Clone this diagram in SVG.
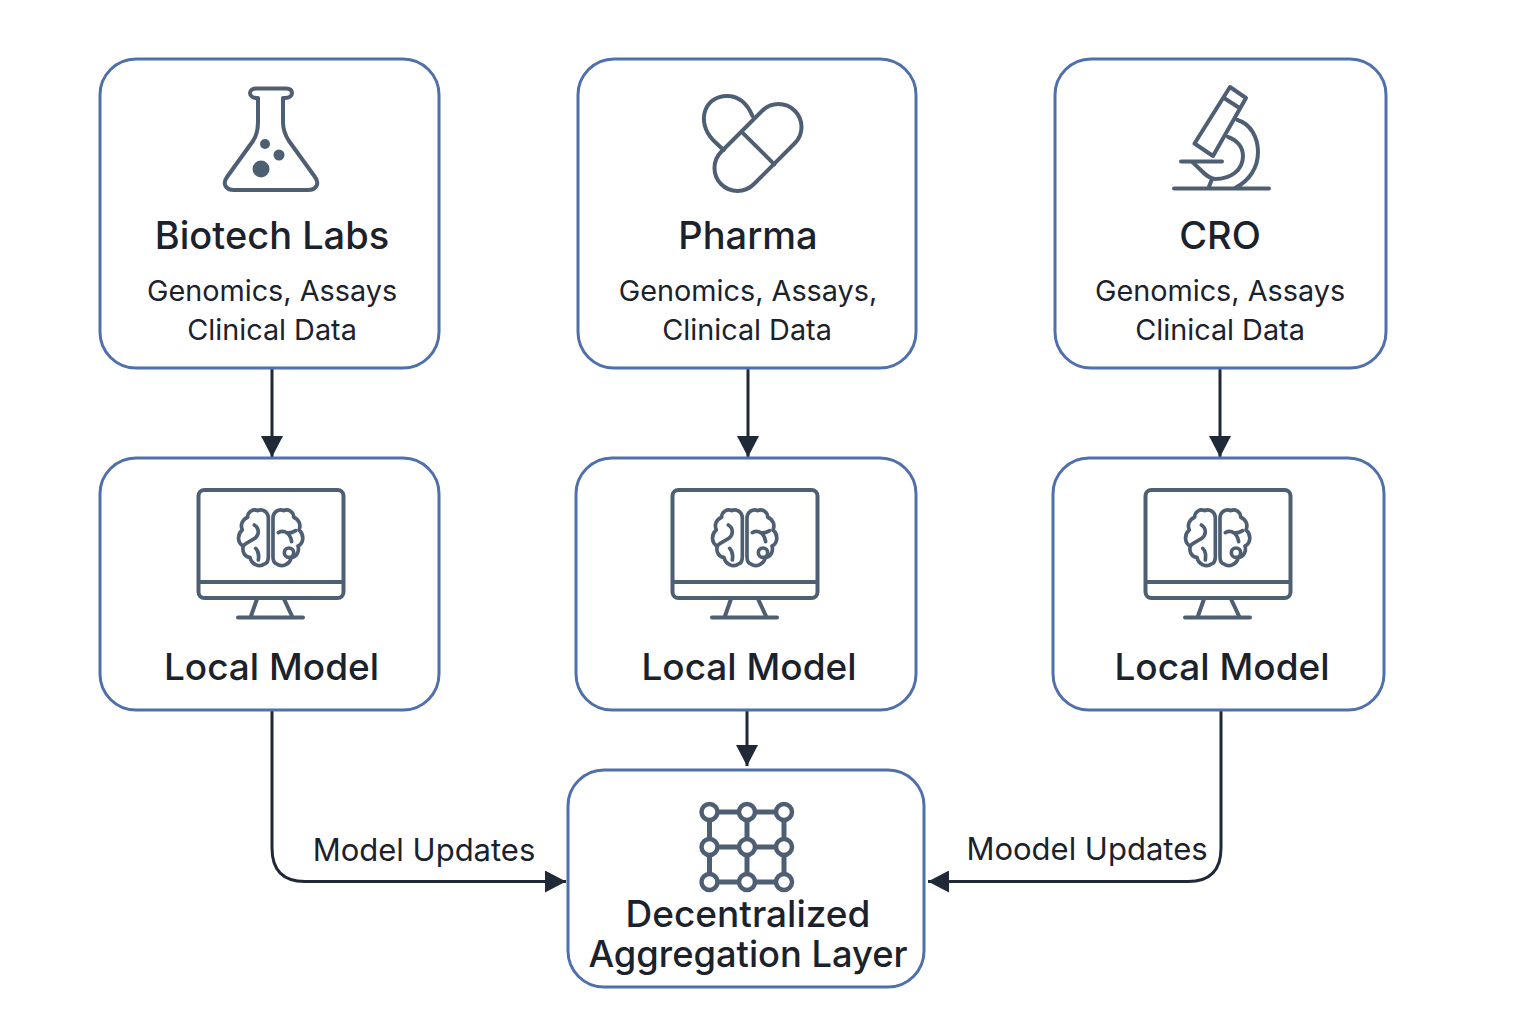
<svg xmlns="http://www.w3.org/2000/svg" xmlns:xlink="http://www.w3.org/1999/xlink" width="1536" height="1024" viewBox="0 0 1536 1024">
<style>
.box{fill:#fff;stroke:#4f70ac;stroke-width:3}
.ic{fill:none;stroke:#4f5f73;stroke-width:4;stroke-linecap:round;stroke-linejoin:round}
.icf{fill:#4f5f73;stroke:none}
.t{font-family:Inter,"Liberation Sans",sans-serif;fill:#1b222c;text-anchor:middle}
.h{font-size:37px;font-weight:500}
.h2{font-size:38px;font-weight:500}
.s{font-size:28.800px;font-weight:400}
.l{font-size:31px;font-weight:400}
.c{fill:none;stroke:#1f2937;stroke-width:3}
</style>
<defs>
<marker id="a" markerUnits="userSpaceOnUse" markerWidth="24" markerHeight="22" refX="21" refY="11" orient="auto"><path d="M0 0L21 11L0 22Z" fill="#1f2937"/></marker>
<g id="mon">
<rect class="ic" x="198.500" y="490" width="145" height="108" rx="6"/>
<path class="ic" d="M199 582H343M257 599L251 616M284 599L292 616M238 617.500H303"/>
<g transform="translate(185 480) scale(.3333)" class="ic" style="stroke-width:11">
<path d="M250 115C250 95 232 85 218 92C205 85 188 95 188 112C172 118 165 135 172 150C155 165 158 190 175 198C170 215 180 232 195 232C198 250 222 265 238 252C246 250 250 242 250 230Z"/>
<path d="M264 115C264 95 282 85 296 92C309 85 326 95 326 112C342 118 349 135 342 150C359 165 356 190 339 198C344 215 334 232 319 232C316 250 292 265 276 252C268 250 264 242 264 230Z"/>
<path d="M208 135C224 145 224 165 208 176C196 183 186 187 175 197M212 205C222 215 222 228 220 240M280 158C298 148 316 160 320 185M304 158C312 160 322 158 332 152"/>
<circle cx="312" cy="218" r="14"/>
</g>
</g>
</defs>
<g id="connectors">
<path class="c" marker-end="url(#a)" d="M272 369V457"/>
<path class="c" marker-end="url(#a)" d="M748 369V457"/>
<path class="c" marker-end="url(#a)" d="M1220 369V457"/>
<path class="c" marker-end="url(#a)" d="M747 711V766"/>
<path class="c" marker-end="url(#a)" d="M272 711V848Q272 881.500 305 881.500H566"/>
<path class="c" marker-end="url(#a)" d="M1221 711V848Q1221 881.500 1188 881.500H928"/>
</g>
<text class="t l" x="424" y="861">Model Updates</text>
<text class="t l" x="1087" y="860">Moodel Updates</text>
<g id="biotech">
<rect class="box" x="100" y="59" width="339" height="309" rx="36"/>
<path class="ic" d="M257 98C253 98 250 96 250 93C250 90 253 88.500 256 88.500H286C290 88.500 292 90 292 93C292 96 289 98 285 98H283V122C283 130 285 135 289 141L315 177C320 184 316 190 308 190H234C226 190 222 184 227 177L253 141C257 135 258 130 258 122V98Z"/>
<circle class="icf" cx="265" cy="144" r="5"/>
<circle class="icf" cx="279" cy="155" r="5.500"/>
<circle class="icf" cx="261" cy="169" r="8.500"/>
<text class="t h2" x="272" y="249">Biotech Labs</text>
<text class="t s" x="272" y="301">Genomics, Assays</text>
<text class="t s" x="272" y="340">Clinical Data</text>
</g>
<g id="pharma">
<rect class="box" x="578" y="59" width="338" height="309" rx="36"/>
<path class="ic" d="M723.500 150L713 140C696 122 704 96 727 96C738 96 747 103 752.500 116"/>
<rect class="ic" x="706" y="124.500" width="104" height="46" rx="23" transform="rotate(-45 758 147.500)"/>
<path class="ic" d="M741.700 131.800L774.300 164.300"/>
<text class="t h2" x="748" y="249">Pharma</text>
<text class="t s" x="748" y="301">Genomics, Assays,</text>
<text class="t s" x="747" y="340">Clinical Data</text>
</g>
<g id="cro">
<rect class="box" x="1055" y="59" width="331" height="309" rx="36"/>
<path class="ic" d="M1230 87L1246 98L1213 156L1194.500 143.500ZM1224 98L1239.500 108M1237.500 120C1251 124 1258 138 1258 152C1258 168 1249 181 1235 188M1228 137C1237 140 1243 147 1243 156C1243 170 1231 179 1215 179C1207 179 1201 169 1192 162M1181 161.500H1222M1212 179L1208.500 188M1174 188.500H1269"/>
<text class="t h2" x="1220" y="249">CRO</text>
<text class="t s" x="1220" y="301">Genomics, Assays</text>
<text class="t s" x="1220" y="340">Clinical Data</text>
</g>
<g id="local1">
<rect class="box" x="100" y="458" width="339" height="252" rx="36"/>
<use href="#mon" xlink:href="#mon"/>
<text class="t h" x="271.500" y="680">Local Model</text>
</g>
<g id="local2">
<rect class="box" x="576" y="458" width="340" height="252" rx="36"/>
<use href="#mon" xlink:href="#mon" x="474"/>
<text class="t h" x="749" y="680">Local Model</text>
</g>
<g id="local3">
<rect class="box" x="1053" y="458" width="331" height="252" rx="36"/>
<use href="#mon" xlink:href="#mon" x="947"/>
<text class="t h" x="1222" y="680">Local Model</text>
</g>
<g id="aggregation">
<rect class="box" x="568" y="770" width="356" height="217" rx="36"/>
<path class="ic" style="stroke-width:5" d="M709.500 812H784M709.500 847H784M709.500 882H784M709.500 812V882M747 812V882M784 812V882"/>
<g style="fill:#fff;stroke:#4f5f73;stroke-width:4.500">
<circle cx="709.500" cy="812" r="8"/><circle cx="747" cy="812" r="8"/><circle cx="784" cy="812" r="8"/>
<circle cx="709.500" cy="847" r="8"/><circle cx="747" cy="847" r="8"/><circle cx="784" cy="847" r="8"/>
<circle cx="709.500" cy="882" r="8"/><circle cx="747" cy="882" r="8"/><circle cx="784" cy="882" r="8"/>
</g>
<text class="t h" x="748" y="927">Decentralized</text>
<text class="t h" style="font-size:36.300px" x="748" y="967">Aggregation Layer</text>
</g>
</svg>
